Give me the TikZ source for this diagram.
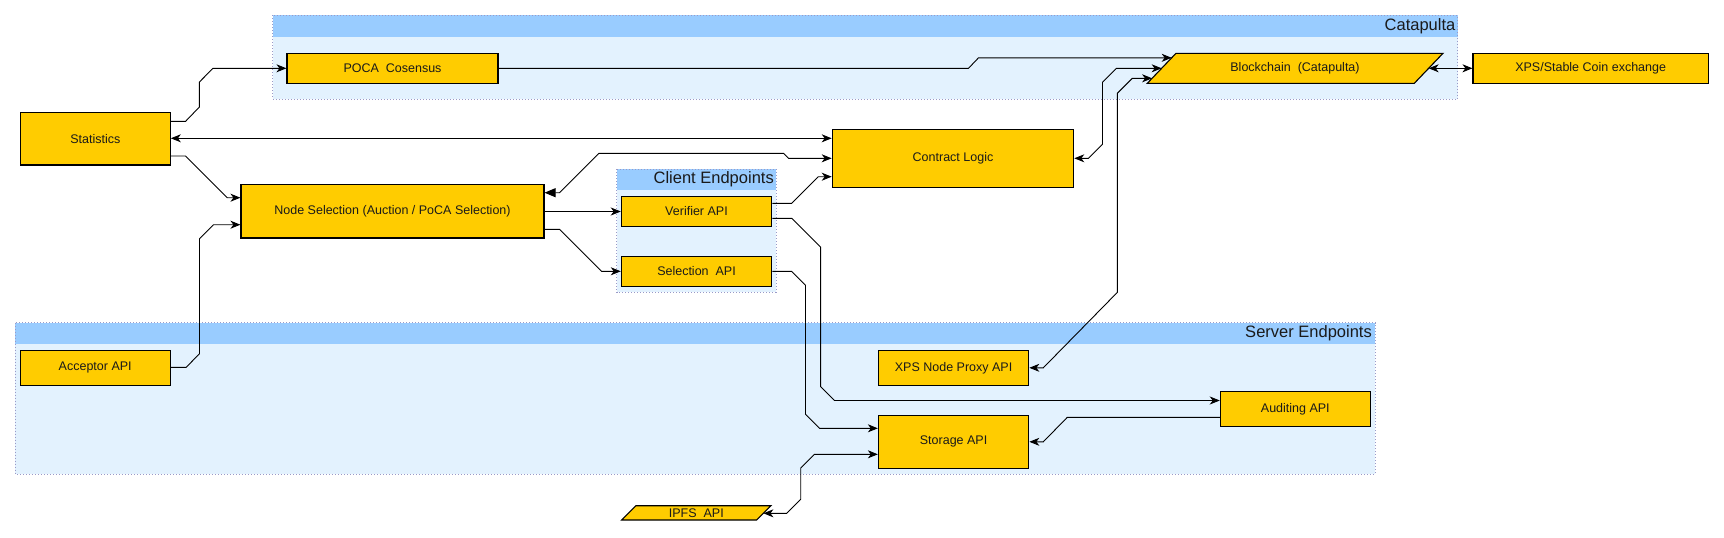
\documentclass[tikz,border=0pt]{standalone}
\usepackage{fontspec}
\setmainfont{Liberation Sans}
\usetikzlibrary{arrows.meta}
\definecolor{boxfill}{HTML}{FFCC00}
\definecolor{grphead}{HTML}{99CCFF}
\definecolor{grpbody}{HTML}{E3F2FE}
\definecolor{grpline}{HTML}{9A9AC8}
\definecolor{txt}{HTML}{1A1A1A}
\begin{document}
\begin{tikzpicture}[x=1pt,y=-1pt,
  box/.style={draw=black, line width=1.1pt, fill=boxfill, inner sep=0pt, font=\fontsize{12.5}{14}\selectfont, text=txt},
  lbl/.style={inner sep=0pt, font=\fontsize{12.5}{14}\selectfont, text=txt},
  para/.style={draw=black, line width=1.1pt, fill=boxfill, line join=miter},
  conn/.style={line width=0.9pt, >={Stealth[length=10pt,width=8pt,inset=3pt]}},
  grpborder/.style={draw=grpline, line width=0.8pt, dash pattern=on 1pt off 2pt},
  grpttl/.style={font=\fontsize{16.5}{19}\selectfont, anchor=east, inner sep=0pt, text=txt}]
\useasboundingbox (0,0) rectangle (1724,538);

% ---- groups ----
\fill[grpbody] (272.5,15.3) rectangle (1457.5,99);
\fill[grphead] (272.5,15.3) rectangle (1457.5,36.7);
\draw[grpborder] (272.5,15.3) rectangle (1457.5,99);
\node[grpttl] (catttl) at (1455.5,26) {Catapulta};

\fill[grpbody] (616.7,169) rectangle (776,292.3);
\fill[grphead] (616.7,169) rectangle (776,190);
\draw[grpborder] (616.7,169) rectangle (776,292.3);
\node[grpttl] (clittl) at (774,179.5) {Client Endpoints};

\fill[grpbody] (15.3,322.5) rectangle (1375,474);
\fill[grphead] (15.3,322.5) rectangle (1375,344);
\draw[grpborder] (15.3,322.5) rectangle (1375,474);
\node[grpttl] (srvttl) at (1372,333.2) {Server Endpoints};

% ---- boxes ----
\node[box, minimum width=150pt, minimum height=52.7pt] (stat) at (95.3,138.65) {Statistics};
\node[box, minimum width=211pt, minimum height=30pt] (poca) at (392.5,68.3) {POCA\ \ Cosensus};
\node[box, minimum width=303pt, minimum height=53.7pt] (nodesel) at (392.5,211.15) {Node Selection (Auction / PoCA Selection)};
\node[box, minimum width=150pt, minimum height=35pt] (acc) at (95.2,367.8) {Acceptor API};
\node[box, minimum width=241.5pt, minimum height=58pt] (contract) at (953,158.3) {Contract Logic};
\node[box, minimum width=150.4pt, minimum height=29.6pt] (verif) at (696.5,211.5) {Verifier API};
\node[box, minimum width=150.4pt, minimum height=29.6pt] (selapi) at (696.5,271.5) {Selection\ \ API};
\node[box, minimum width=235.3pt, minimum height=30pt] (xpsx) at (1590.65,68.3) {XPS/Stable Coin exchange};
\node[box, minimum width=150.4pt, minimum height=35pt] (proxy) at (953.6,367.8) {XPS Node Proxy API};
\node[box, minimum width=150pt, minimum height=35pt] (audit) at (1295.3,408.8) {Auditing API};
\node[box, minimum width=150.4pt, minimum height=53pt] (storage) at (953.6,441.8) {Storage API};

% parallelograms
\draw[para] (1176,53.3) -- (1443,53.3) -- (1414.3,83.3) -- (1147.3,83.3) -- cycle;
\node[lbl] (chain) at (1295,68.3) {Blockchain\ \ (Catapulta)};
\coordinate (chainA) at (1171.7,57.8);
\coordinate (chainB) at (1161.65,68.3);
\coordinate (chainC) at (1152.1,78.3);
\coordinate (chainR) at (1428.65,68.3);

\draw[para] (636,505.7) -- (771,505.7) -- (756.7,520) -- (621.7,520) -- cycle;
\node[lbl] (ipfs) at (696.35,512.85) {IPFS\ \ API};
\coordinate (ipfsR) at (763.4,513.3);

% ---- connectors ----
\draw[conn,->] (stat.east |- 0,121.3) -- (185.6,121.3) -- (199.4,107) -- (199.4,82) -- (213,68.3) -- (poca.west);
\draw[conn,<->] (stat.east |- 0,138.3) -- (contract.west |- 0,138.3);
\draw[conn,->] (stat.east |- 0,156) -- (185.6,156) -- (227.3,197.7) -- (nodesel.west |- 0,197.7);
\draw[conn,->] (acc.east |- 0,367.3) -- (186.2,367.3) -- (199.5,353.7) -- (199.5,238.7) -- (213.5,224.7) -- (nodesel.west |- 0,224.7);
\draw[conn,{Triangle[length=11pt,width=9pt]}-{Stealth[length=10pt,width=8pt,inset=3pt]}] (nodesel.east |- 0,192.7) -- (559.5,192.7) -- (599,153.3) -- (783.5,153.3) -- (788.5,158.3) -- (contract.west);
\draw[conn,->] (nodesel.east |- 0,211.5) -- (verif.west);
\draw[conn,->] (nodesel.east |- 0,229.3) -- (559.5,229.3) -- (601.5,271.3) -- (selapi.west |- 0,271.3);
\draw[conn,->] (verif.east |- 0,203.3) -- (791.7,203.3) -- (818.3,176.7) -- (contract.west |- 0,176.7);
\draw[conn,->] (verif.east |- 0,218.3) -- (791.7,218.3) -- (820.6,247.2) -- (820.6,386.7) -- (834.5,400.5) -- (audit.west |- 0,400.5);
\draw[conn,->] (selapi.east |- 0,271.3) -- (791.5,271.3) -- (805.5,285.3) -- (805.5,414.3) -- (819.5,428.3) -- (storage.west |- 0,428.3);
\draw[conn,->] (poca.east) -- (968.5,68.3) -- (978.5,57.8) -- (chainA);
\draw[conn,<->] (contract.east) -- (1088.5,158.3) -- (1102.5,144.3) -- (1102.5,82.3) -- (1116.5,68.3) -- (chainB);
\draw[conn,<->] (chainC) -- (1132.3,78.3) -- (1117.4,93.2) -- (1117.4,292.3) -- (1043.3,367.8) -- (proxy.east);
\draw[conn,<->] (chainR) -- (xpsx.west);
\draw[conn,->] (audit.west |- 0,417.3) -- (1067.3,417.3) -- (1043.3,441.8) -- (storage.east);
\draw[conn,<->] (storage.west |- 0,454.3) -- (814.4,454.3) -- (800.7,468) -- (800.7,499.3) -- (786.7,513.3) -- (ipfsR);
\end{tikzpicture}
\end{document}
